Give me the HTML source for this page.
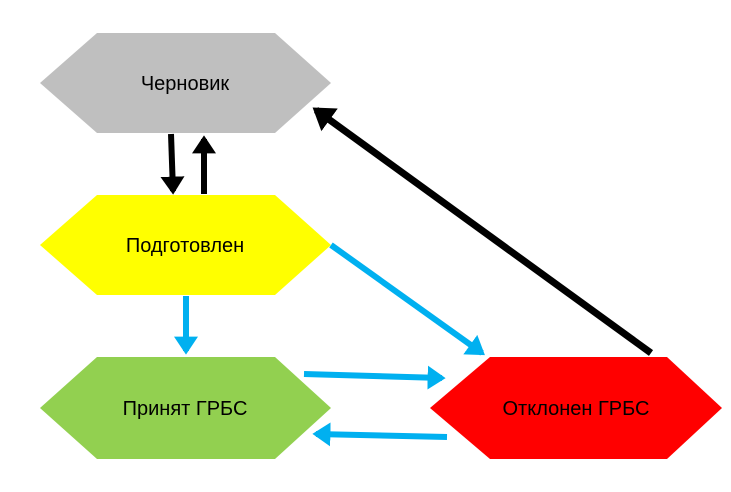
<!DOCTYPE html>
<html><head><meta charset="utf-8"><style>
html,body{margin:0;padding:0;background:#fff;}
svg{display:block}
text{font-family:"Liberation Sans",sans-serif;font-size:20px;fill:#000;text-anchor:middle;dominant-baseline:central}
</style></head><body>
<svg width="731" height="492" viewBox="0 0 731 492" xmlns="http://www.w3.org/2000/svg">
<defs>
<marker id="hk" markerWidth="5" markerHeight="5" refX="2.4" refY="2.2" orient="auto" markerUnits="strokeWidth"><path d="M0,0.2 L3,2.2 L0,4.2 Z" fill="#000"/></marker>
<marker id="hb" markerWidth="5" markerHeight="5" refX="2.4" refY="2.2" orient="auto" markerUnits="strokeWidth"><path d="M0,0.2 L3,2.2 L0,4.2 Z" fill="#00b0f0"/></marker>
</defs>
<polygon points="40,83 97,33 275,33 331,83 275,133 97,133" fill="#bfbfbf"/>
<polygon points="40,245 97,195 275,195 331,245 275,295 97,295" fill="#ffff00"/>
<polygon points="40,408 97,357 275,357 331,408 275,459 97,459" fill="#92d050"/>
<polygon points="430,408 490,357 667,357 722,408 667,459 490,459" fill="#ff0000"/>
<text x="185" y="84">Черновик</text>
<text x="185" y="246">Подготовлен</text>
<text x="185" y="409">Принят ГРБС</text>
<text x="576" y="409">Отклонен ГРБС</text>
<g stroke-width="6" fill="none">
<line x1="171" y1="134" x2="173" y2="191" stroke="#000" marker-end="url(#hk)"/>
<line x1="204" y1="194" x2="204" y2="139" stroke="#000" marker-end="url(#hk)"/>
<line x1="651" y1="353" x2="316" y2="110" stroke="#000" stroke-width="7" marker-end="url(#hk)"/>
<line x1="186" y1="296" x2="186" y2="351" stroke="#00b0f0" marker-end="url(#hb)"/>
<line x1="331" y1="245" x2="482" y2="353" stroke="#00b0f0" marker-end="url(#hb)"/>
<line x1="304" y1="374" x2="442" y2="378" stroke="#00b0f0" marker-end="url(#hb)"/>
<line x1="447" y1="437" x2="316" y2="434" stroke="#00b0f0" marker-end="url(#hb)"/>
</g>
</svg>
</body></html>
